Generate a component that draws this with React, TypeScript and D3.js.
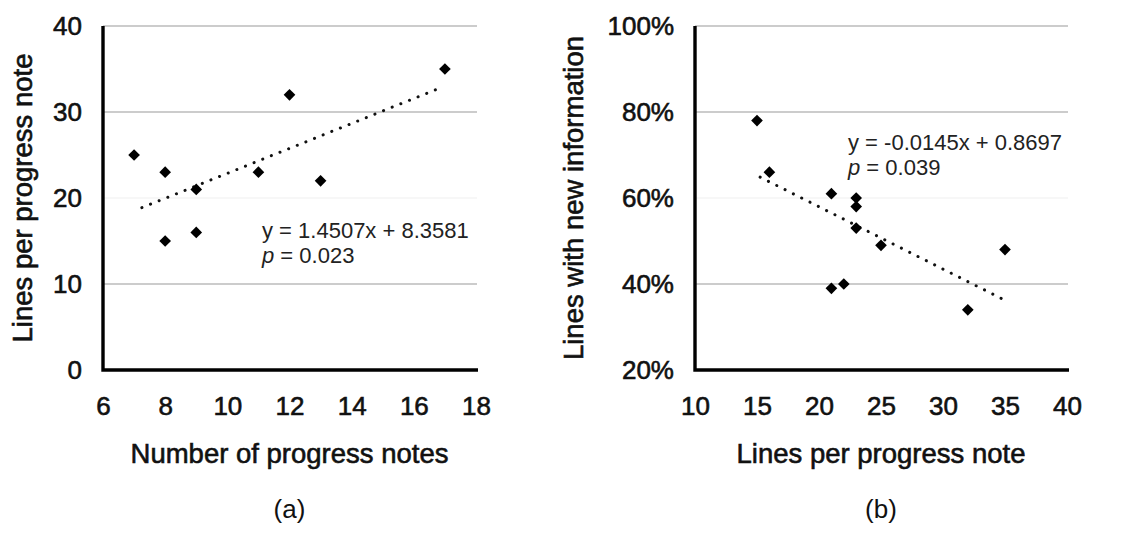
import React, { useRef, useEffect } from 'react';
import * as d3 from 'd3';

// panel (a): number of notes vs lines per note
const notesX = [7, 8, 8, 9, 9, 11, 12, 13, 17];
const linesPerNoteY = [25, 23, 15, 21, 16, 23, 32, 22, 35];
const fitA = { slope: 1.4507, intercept: 8.3581, p: '0.023' };
const ticksAX = [6, 8, 10, 12, 14, 16, 18];
const ticksAY = [0, 10, 20, 30, 40];

// panel (b): lines per note vs share of new information
const linesX = [15, 16, 21, 23, 23, 23, 25, 21, 22, 32, 35];
const newInfoY = [0.78, 0.66, 0.61, 0.60, 0.58, 0.53, 0.49, 0.39, 0.40, 0.34, 0.48];
const fitB = { slope: -0.0145, intercept: 0.8697, p: '0.039' };
const ticksBX = [10, 15, 20, 25, 30, 35, 40];
const ticksBY = [0.2, 0.4, 0.6, 0.8, 1.0];

const FONT = '"Liberation Sans", Arial, Helvetica, sans-serif';
const W = 1121, H = 554;
const TOP = 26, BOTTOM = 370;

type PanelProps = {
  xs: number[]; ys: number[];
  fit: { slope: number; intercept: number; p: string };
  xTicks: number[]; yTicks: number[];
  yFormat: (v: number) => string;
  left: number; right: number;
  xTitle: string; yTitle: string; yTitleX: number;
  tag: string;
  eqX: number; eqY: number;
};

const Panel = (props: PanelProps) => {
  const ref = useRef<SVGGElement>(null);
  const { left, right } = props;

  useEffect(() => {
    const g = d3.select(ref.current);
    g.selectAll('*').remove();
    const { xs, ys, fit, xTicks, yTicks } = props;
    const top = TOP, bottom = BOTTOM;

    const x = d3.scaleLinear().domain(d3.extent(xTicks) as [number, number]).range([left, right]);
    const y = d3.scaleLinear().domain(d3.extent(yTicks) as [number, number]).range([bottom, top]);

    // gridlines (the middle one is nearly white in the original)
    g.append('g').selectAll('line')
      .data(yTicks.slice(1))
      .join('line')
      .attr('x1', left).attr('x2', right + 1)
      .attr('y1', d => y(d)).attr('y2', d => y(d))
      .attr('stroke', (d, i) => i === 1 ? '#f0f0f0' : '#9a9a9a')
      .attr('stroke-width', 1.2);

    // axes
    const ya = g.append('g').attr('transform', `translate(${left},0)`)
      .call(d3.axisLeft(y).tickValues(yTicks).tickSize(0).tickPadding(21).tickFormat(d => props.yFormat(d as number)));
    const xa = g.append('g').attr('transform', `translate(0,${bottom})`)
      .call(d3.axisBottom(x).tickValues(xTicks).tickSize(0).tickPadding(27).tickFormat(d3.format('d')));
    [ya, xa].forEach(a => {
      a.select('.domain').remove();
      a.selectAll('text').attr('font-family', FONT).attr('font-size', 26).attr('fill', '#111')
        .attr('stroke', '#111').attr('stroke-width', 0.6);
    });

    // trendline
    const [x0, x1] = d3.extent(xs) as [number, number];
    const line = d3.line<number>().x(d => x(d)).y(d => y(fit.slope * d + fit.intercept));
    g.append('path').attr('d', line([x0 + 0.25, x1 - 0.25]))
      .attr('fill', 'none').attr('stroke', '#111').attr('stroke-width', 3)
      .attr('stroke-linecap', 'round').attr('stroke-dasharray', '0.1 9.2');

    // markers
    const sym = d3.symbol().type(d3.symbolSquare).size(68);
    g.append('g').selectAll('path')
      .data(xs.map((v, i) => [v, ys[i]]))
      .join('path')
      .attr('d', sym)
      .attr('transform', d => `translate(${x(d[0])},${y(d[1])}) rotate(45)`)
      .attr('fill', '#000');

    // equation
    const eq = g.append('text').attr('font-family', FONT).attr('font-size', 22).attr('fill', '#222');
    const sign = fit.intercept >= 0 ? '+' : '-';
    eq.append('tspan').attr('x', props.eqX).attr('y', props.eqY)
      .text(`y = ${fit.slope}x ${sign} ${Math.abs(fit.intercept)}`);
    const l2 = eq.append('tspan').attr('x', props.eqX).attr('y', props.eqY + 25);
    l2.append('tspan').attr('font-style', 'italic').text('p');
    l2.append('tspan').text(` = ${fit.p}`);

    // titles
    const cx = (left + right) / 2;
    g.append('text').attr('x', cx).attr('y', 463).attr('text-anchor', 'middle')
      .attr('font-family', FONT).attr('font-size', 27.5).attr('fill', '#111')
      .attr('stroke', '#111').attr('stroke-width', 0.6).text(props.xTitle);
    g.append('text').attr('transform', `translate(${props.yTitleX},${(top + bottom) / 2}) rotate(-90)`)
      .attr('text-anchor', 'middle')
      .attr('font-family', FONT).attr('font-size', 27.5).attr('fill', '#111')
      .attr('stroke', '#111').attr('stroke-width', 0.6).text(props.yTitle);
    g.append('text').attr('x', cx).attr('y', 518).attr('text-anchor', 'middle')
      .attr('font-family', FONT).attr('font-size', 26).attr('fill', '#111').text(props.tag);
  }, [props]);

  return (
    <g>
      <g ref={ref} />
      {/* heavy axis frame */}
      <path d={`M${left},${TOP}V${BOTTOM}H${right + 2}`} fill="none" stroke="#000" strokeWidth={3.4} />
    </g>
  );
};

const App = () => {
  return (
    <svg width={W} height={H} style={{ position: 'absolute', left: 0, top: 0, background: '#fff' }}>
      <Panel xs={notesX} ys={linesPerNoteY} fit={fitA} xTicks={ticksAX} yTicks={ticksAY}
        yFormat={d3.format('d')} left={103} right={476}
        xTitle="Number of progress notes" yTitle="Lines per progress note" yTitleX={32}
        tag="(a)" eqX={262} eqY={238} />
      <Panel xs={linesX} ys={newInfoY} fit={fitB} xTicks={ticksBX} yTicks={ticksBY}
        yFormat={d3.format('.0%')} left={695} right={1067}
        xTitle="Lines per progress note" yTitle="Lines with new information" yTitleX={583}
        tag="(b)" eqX={848} eqY={150} />
    </svg>
  );
};

export default App;
